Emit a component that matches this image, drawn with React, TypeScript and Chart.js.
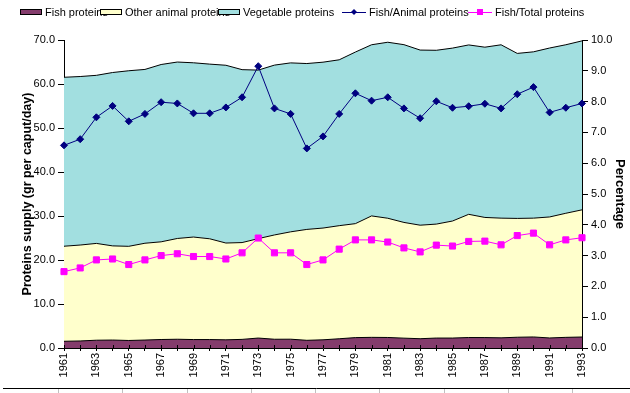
import React, { useEffect, useRef } from 'react';
import { Chart, registerables } from 'chart.js';

Chart.register(...registerables);

const years = ['1961','1962','1963','1964','1965','1966','1967','1968','1969','1970','1971','1972','1973','1974','1975','1976','1977','1978','1979','1980','1981','1982','1983','1984','1985','1986','1987','1988','1989','1990','1991','1992','1993'];

const fishProteins = [1.53,1.60,1.77,1.81,1.71,1.81,1.93,1.99,1.92,1.92,1.86,1.96,2.26,1.99,2.00,1.75,1.86,2.10,2.36,2.42,2.39,2.24,2.11,2.26,2.26,2.38,2.37,2.31,2.45,2.51,2.28,2.42,2.50];
const otherAnimalProteins = [21.6,21.8,22.0,21.4,21.4,22.0,22.2,22.9,23.3,22.9,22.0,22.0,22.6,23.7,24.4,25.2,25.4,25.7,25.9,27.6,27.1,26.3,25.8,25.9,26.6,28.0,27.3,27.2,27.0,27.0,27.5,28.2,28.9];
const vegetableProteins = [38.4,38.3,38.2,39.4,39.9,39.5,40.3,40.1,39.6,39.7,40.4,39.3,38.3,38.6,38.4,37.7,37.7,37.7,39.0,38.9,40.0,40.4,39.8,39.5,39.3,38.5,38.7,39.4,37.5,37.8,38.4,38.3,38.4];
const fishAnimalPct = [6.58,6.78,7.49,7.86,7.36,7.60,7.98,7.94,7.62,7.62,7.81,8.14,9.15,7.78,7.60,6.48,6.87,7.60,8.27,8.03,8.14,7.78,7.46,8.01,7.80,7.85,7.93,7.78,8.24,8.47,7.65,7.80,7.94];
const fishTotalPct = [2.48,2.60,2.86,2.89,2.71,2.86,3.00,3.06,2.97,2.97,2.89,3.09,3.57,3.09,3.09,2.71,2.86,3.21,3.51,3.51,3.44,3.25,3.12,3.34,3.31,3.46,3.47,3.35,3.65,3.73,3.35,3.51,3.58];

const seriesLabels = ['Fish proteins', 'Other animal proteins', 'Vegetable proteins', 'Fish/Animal proteins', 'Fish/Total proteins'];
const leftTitle = 'Proteins supply (gr per caput/day)';
const rightTitle = 'Percentage';

const FONT = '"Liberation Sans", Arial, sans-serif';
const COL_FISH = '#843c6c';
const COL_OTHER = '#ffffcc';
const COL_VEG = '#a2dfe0';
const COL_FA = '#000080';
const COL_FT = '#ff00ff';

const legendKeyX = [20, 100, 218, 342, 468];

const excelDecor = {
  id: 'excelDecor',
  afterDraw(chart: any) {
    const ctx = chart.ctx;
    const xs = chart.scales.x;
    const area = chart.chartArea;
    ctx.save();
    ctx.strokeStyle = '#000';
    ctx.lineWidth = 1;
    for (let i = 0; i < years.length; i++) {
      const px = Math.round(xs.getPixelForValue(i)) + 0.5;
      ctx.beginPath();
      ctx.moveTo(px, area.bottom - 3);
      ctx.lineTo(px, area.bottom);
      ctx.stroke();
    }
    ctx.beginPath();
    ctx.moveTo(3, 388.5);
    ctx.lineTo(630, 388.5);
    ctx.stroke();
    ctx.strokeStyle = '#c0c0c0';
    for (let k = 0; k < 9; k++) {
      const gx = Math.round(58 + k * 64.25) + 0.5;
      ctx.beginPath();
      ctx.moveTo(gx, 389);
      ctx.lineTo(gx, 393);
      ctx.stroke();
    }
    ctx.beginPath();
    ctx.rect(0, 0, 612, 30);
    ctx.clip();
    ctx.font = '11px ' + FONT;
    ctx.textBaseline = 'middle';
    ctx.fillStyle = '#000';
    const ly = 12;
    [0, 1, 2, 3, 4].forEach((di, k) => {
      const ds = chart.data.datasets[di];
      const x = legendKeyX[k];
      if (k < 3) {
        ctx.fillStyle = ds.backgroundColor;
        ctx.fillRect(x, ly - 3, 22, 6);
        ctx.strokeStyle = '#000';
        ctx.lineWidth = 1;
        ctx.strokeRect(x + 0.5, ly - 3 + 0.5, 21, 5);
      } else {
        ctx.strokeStyle = ds.borderColor;
        ctx.lineWidth = 1;
        ctx.beginPath();
        ctx.moveTo(x, ly + 0.5);
        ctx.lineTo(x + 24, ly + 0.5);
        ctx.stroke();
        ctx.fillStyle = ds.pointBackgroundColor;
        ctx.beginPath();
        if (k === 3) {
          ctx.moveTo(x + 12, ly - 3);
          ctx.lineTo(x + 15, ly);
          ctx.lineTo(x + 12, ly + 3);
          ctx.lineTo(x + 9, ly);
          ctx.closePath();
          ctx.fill();
        } else {
          ctx.fillRect(x + 9, ly - 3, 6, 6);
        }
      }
      ctx.fillStyle = '#000';
      ctx.fillText(ds.label, x + (k < 3 ? 25 : 27), ly + 1);
    });
    ctx.restore();
  },
};

export default function App() {
  const ref = useRef<HTMLCanvasElement | null>(null);
  useEffect(() => {
    if (!ref.current) return;
    Chart.defaults.font.family = FONT;
    Chart.defaults.font.size = 11;
    Chart.defaults.color = '#000';
    const areaBase = { borderColor: '#000', borderWidth: 1, pointRadius: 0, tension: 0, yAxisID: 'y' };
    const chart = new Chart(ref.current, {
      type: 'line',
      data: {
        labels: years,
        datasets: [
          { ...areaBase, label: seriesLabels[0], data: fishProteins, backgroundColor: COL_FISH, fill: 'origin', order: 3 },
          { ...areaBase, label: seriesLabels[1], data: otherAnimalProteins, backgroundColor: COL_OTHER, fill: '-1', order: 4 },
          { ...areaBase, label: seriesLabels[2], data: vegetableProteins, backgroundColor: COL_VEG, fill: '-1', order: 5 },
          { label: seriesLabels[3], data: fishAnimalPct, yAxisID: 'y1', borderColor: COL_FA, backgroundColor: COL_FA, pointBackgroundColor: COL_FA, pointBorderColor: COL_FA, borderWidth: 1, pointStyle: 'rectRot', pointRadius: 3.5, fill: false, order: 0 },
          { label: seriesLabels[4], data: fishTotalPct, yAxisID: 'y1', borderColor: COL_FT, backgroundColor: COL_FT, pointBackgroundColor: COL_FT, pointBorderColor: COL_FT, borderWidth: 1, pointStyle: 'rect', pointRadius: 4.3, fill: false, order: 1 },
        ] as any,
      },
      options: {
        responsive: false,
        animation: false,
        devicePixelRatio: 1,
        layout: { padding: { top: 40, left: 0, right: 0, bottom: 0 } },
        plugins: { legend: { display: false }, tooltip: { enabled: false } },
        scales: {
          x: {
            type: 'category',
            offset: false,
            grid: { display: true, drawOnChartArea: false, drawTicks: true, tickLength: 3, color: '#000', lineWidth: 1 },
            border: { display: true, color: '#000', width: 1 },
            ticks: {
              autoSkip: false,
              maxRotation: 90,
              minRotation: 90,
              padding: 2,
              color: '#000',
              font: { size: 11, family: FONT },
              callback: (_v: any, i: number) => (i % 2 === 0 ? years[i] : ''),
            },
            afterFit: (s: any) => { s.height = 45; },
          },
          y: {
            position: 'left',
            stacked: true,
            min: 0,
            max: 70,
            grid: { display: true, drawOnChartArea: false, tickLength: 6, color: '#000' },
            border: { display: true, color: '#000', width: 1 },
            ticks: { stepSize: 10, padding: 3, color: '#000', font: { size: 11, family: FONT }, callback: (v: any) => Number(v).toFixed(1) },
            title: { display: true, text: leftTitle, color: '#000', font: { size: 12.5, weight: 'bold', family: FONT }, padding: { top: 20, bottom: 0 } },
            afterFit: (s: any) => { s.width = 64; },
          },
          y1: {
            position: 'right',
            min: 0,
            max: 10,
            grid: { display: true, drawOnChartArea: false, tickLength: 6, color: '#000' },
            border: { display: true, color: '#000', width: 1 },
            ticks: { stepSize: 1, padding: 3, color: '#000', font: { size: 11, family: FONT }, callback: (v: any) => Number(v).toFixed(1) },
            title: { display: true, text: rightTitle, color: '#000', font: { size: 13, weight: 'bold', family: FONT }, padding: { top: 3, bottom: 0 } },
            afterFit: (s: any) => { s.width = 48; },
          },
        },
      } as any,
      plugins: [excelDecor],
    });
    return () => chart.destroy();
  }, []);
  return (
    <div style={{ position: 'fixed', left: 0, top: 0, width: 630, height: 393, background: '#fff' }}>
      <canvas ref={ref} width={630} height={393} style={{ display: 'block', width: 630, height: 393 }} />
    </div>
  );
}
